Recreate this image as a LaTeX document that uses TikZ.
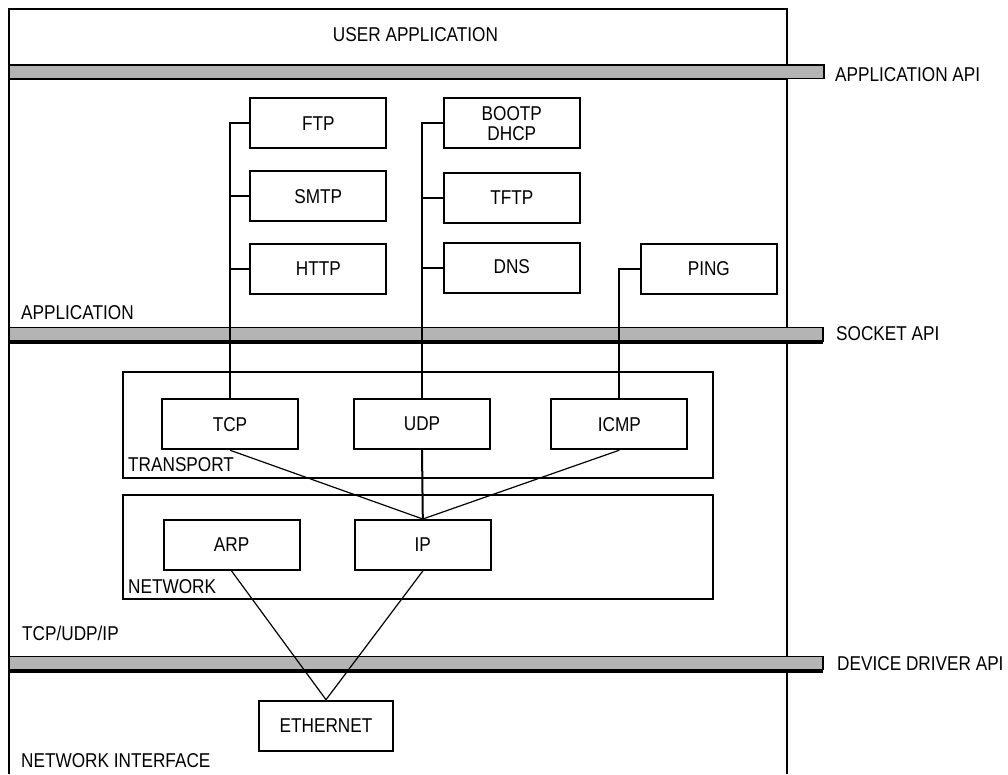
\documentclass[tikz,border=0pt]{standalone}
\usepackage{fontspec}
\setmainfont[FakeStretch=0.86]{Liberation Sans}
\definecolor{barg}{RGB}{180,180,180}
\begin{document}
\begin{tikzpicture}[x=1pt,y=-1pt,
  txt/.style={font=\fontsize{20}{21}\selectfont},
  box/.style={draw, line width=2pt, minimum width=136pt, minimum height=50pt, inner sep=0pt, txt},
  lbl/.style={inner sep=0pt, txt},
  bar/.style={draw, line width=1.3pt, fill=barg},
  frame/.style={line width=2pt},
  thick line/.style={line width=3.5pt},
  conn/.style={line width=2pt},
  diag/.style={line width=1.2pt}]
\useasboundingbox (0,0) rectangle (1008,774);

% layer frames
\draw[frame] (9,774) -- (9,9) -- (787,9) -- (787,774);
% API bars
\draw[bar] (9,65) rectangle (824,78.5);
\draw[line width=2.7pt] (9,65) -- (824,65);
\draw[line width=2.5pt] (9,79) -- (787,79);
\draw[bar] (9,327.5) rectangle (823,341);
\draw[thick line] (9,342.5) -- (823,342.5);
\draw[bar] (9,656.5) rectangle (823,669.5);
\draw[thick line] (9,671.5) -- (823,671.5);

% group boxes
\draw[frame] (122.7,372.3) rectangle (713.3,478.3);
\draw[frame] (123.3,495) rectangle (713.3,599);

% labels
\node[lbl, anchor=base] (userapp) at (415.5,41.7) {USER APPLICATION};
\node[lbl, anchor=base west] (appapi) at (835,81) {APPLICATION API};
\node[lbl, anchor=base west] (sockapi) at (836,340) {SOCKET API};
\node[lbl, anchor=base west] (devapi) at (837,670) {DEVICE DRIVER API};
\node[lbl, anchor=base west] (applbl) at (21,319.5) {APPLICATION};
\node[lbl, anchor=base west] (transplbl) at (128,471) {TRANSPORT};
\node[lbl, anchor=base west] (netlbl) at (128,593) {NETWORK};
\node[lbl, anchor=base west] (tcpiplbl) at (22,640) {TCP/UDP/IP};
\node[lbl, anchor=base west] (nilbl) at (21,767) {NETWORK INTERFACE};

% application protocol boxes
\node[box] (ftp) at (318.3,123.3) {FTP};
\node[box] (smtp) at (318.3,196.3) {\raisebox{-3pt}{SMTP}};
\node[box] (http) at (318.3,268.7) {HTTP};
\node[box, align=center, font=\fontsize{20}{20}\selectfont] (bootp) at (511.8,123.3) {BOOTP\\DHCP};
\node[box] (tftp) at (511.8,197.5) {TFTP};
\node[box] (dns) at (511.8,268.3) {\raisebox{3pt}{DNS}};
\node[box] (ping) at (708.8,268.7) {PING};

% transport / network / interface boxes
\node[box] (tcp) at (230,424.2) {TCP};
\node[box] (udp) at (422,424.2) {UDP};
\node[box] (icmp) at (619.3,424.2) {ICMP};
\node[box] (arp) at (231.6,545) {ARP};
\node[box] (ip) at (422.8,545) {IP};
\node[box, minimum width=133.4pt] (eth) at (326,725.7) {ETHERNET};

% connectors
\draw[conn] (ftp.west) -| (tcp.north);
\draw[conn] (smtp.west) -- (smtp.west -| tcp.north);
\draw[conn] (http.west) -- (http.west -| tcp.north);
\draw[conn] (bootp.west) -| (udp.north);
\draw[conn] (tftp.west) -- (tftp.west -| udp.north);
\draw[conn] (dns.west) -- (dns.west -| udp.north);
\draw[conn] (ping.west) -| (icmp.north);
\draw[diag] (tcp.south) -- (ip.north);
\draw[conn] (udp.south) -- (ip.north);
\draw[diag] (icmp.south) -- (ip.north);
\draw[diag] (arp.south) -- (eth.north);
\draw[diag] (ip.south) -- (eth.north);
\end{tikzpicture}
\end{document}
